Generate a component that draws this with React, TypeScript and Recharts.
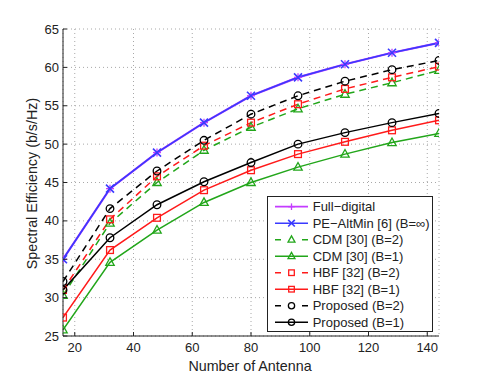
import React from 'react';
import { LineChart, Line, XAxis, YAxis, CartesianGrid, Legend } from 'recharts';

const antennas = [16, 32, 48, 64, 80, 96, 112, 128, 144];
const fullDigital = [35.0, 44.2, 48.9, 52.8, 56.3, 58.7, 60.4, 61.9, 63.2];
const peAltMin = [35.0, 44.2, 48.9, 52.8, 56.3, 58.7, 60.4, 61.9, 63.2];
const cdmB2 = [30.3, 39.7, 45.0, 49.2, 52.2, 54.6, 56.5, 58.0, 59.6];
const cdmB1 = [25.8, 34.6, 38.8, 42.4, 45.0, 47.0, 48.7, 50.2, 51.4];
const hbfB2 = [31.0, 40.2, 45.8, 49.8, 52.8, 55.2, 57.2, 58.7, 60.1];
const hbfB1 = [27.4, 36.2, 40.4, 44.0, 46.6, 48.7, 50.3, 51.8, 53.1];
const propB2 = [32.1, 41.6, 46.5, 50.5, 53.9, 56.3, 58.2, 59.7, 60.9];
const propB1 = [31.0, 37.8, 42.1, 45.1, 47.6, 50.0, 51.5, 52.8, 54.0];
const xTicks = [20, 40, 60, 80, 100, 120, 140];
const yTicks = [25, 30, 35, 40, 45, 50, 55, 60, 65];

const FONT = '"Liberation Sans", Arial, Helvetica, sans-serif';

type Shape = 'plus' | 'x' | 'triangle' | 'square' | 'circle';
interface SeriesDef { key: string; name: string; color: string; dashed: boolean; shape: Shape; values: number[]; width: number }

const series: SeriesDef[] = [
  { key: 'fd', name: 'Full\u2212digital', color: '#c43cff', dashed: false, shape: 'plus', values: fullDigital, width: 2.2 },
  { key: 'pe', name: 'PE\u2212AltMin [6] (B=\u221e)', color: '#3a3aff', dashed: false, shape: 'x', values: peAltMin, width: 1.6 },
  { key: 'cdm2', name: 'CDM [30] (B=2)', color: '#22a61a', dashed: true, shape: 'triangle', values: cdmB2, width: 1.5 },
  { key: 'cdm1', name: 'CDM [30] (B=1)', color: '#22a61a', dashed: false, shape: 'triangle', values: cdmB1, width: 1.5 },
  { key: 'hbf2', name: 'HBF [32] (B=2)', color: '#ff1a1a', dashed: true, shape: 'square', values: hbfB2, width: 1.5 },
  { key: 'hbf1', name: 'HBF [32] (B=1)', color: '#ff1a1a', dashed: false, shape: 'square', values: hbfB1, width: 1.5 },
  { key: 'p2', name: 'Proposed (B=2)', color: '#000000', dashed: true, shape: 'circle', values: propB2, width: 1.5 },
  { key: 'p1', name: 'Proposed (B=1)', color: '#000000', dashed: false, shape: 'circle', values: propB1, width: 1.5 },
];

const data = antennas.map((n, i) => {
  const row: Record<string, number> = { n };
  series.forEach((s) => { row[s.key] = s.values[i]; });
  return row;
});

function Marker({ shape, x, y, color, s = 4 }: { shape: Shape; x: number; y: number; color: string; s?: number }) {
  const common = { stroke: color, strokeWidth: 1.3, fill: 'none' };
  switch (shape) {
    case 'plus':
      return (
        <g {...common}>
          <line x1={x - s} y1={y} x2={x + s} y2={y} />
          <line x1={x} y1={y - s} x2={x} y2={y + s} />
        </g>
      );
    case 'x':
      return (
        <g {...common} strokeWidth={1.6}>
          <line x1={x - s} y1={y - s} x2={x + s} y2={y + s} />
          <line x1={x - s} y1={y + s} x2={x + s} y2={y - s} />
        </g>
      );
    case 'triangle':
      return <polygon {...common} points={`${x},${y - s * 1.15} ${x - s * 1.05},${y + s * 0.75} ${x + s * 1.05},${y + s * 0.75}`} />;
    case 'square':
      return <rect {...common} x={x - s * 0.85} y={y - s * 0.85} width={s * 1.7} height={s * 1.7} />;
    case 'circle':
    default:
      return <circle {...common} cx={x} cy={y} r={s * 0.95} />;
  }
}

const makeDot = (s: SeriesDef) => (props: any) => {
  const { cx, cy, index } = props;
  if (cx == null || cy == null) return <g key={`${s.key}-${index}`} />;
  return (
    <g key={`${s.key}-${index}`}>
      <Marker shape={s.shape} x={cx} y={cy} color={s.color} />
    </g>
  );
};

const BottomTick = (props: any) => {
  const { x, y, payload } = props;
  return (
    <g>
      <line x1={x} y1={y} x2={x} y2={y - 4} stroke="#222" />
      <text x={x} y={y + 15.5} textAnchor="middle" fontSize={13} fill="#222" fontFamily={FONT}>{payload.value}</text>
    </g>
  );
};
const TopTick = (props: any) => {
  const { x, y } = props;
  return <line x1={x} y1={y} x2={x} y2={y + 4} stroke="#222" />;
};
const LeftTick = (props: any) => {
  const { x, y, payload } = props;
  return (
    <g>
      <line x1={x} y1={y} x2={x + 4} y2={y} stroke="#222" />
      <text x={x - 4} y={y + 4.5} textAnchor="end" fontSize={13} fill="#222" fontFamily={FONT}>{payload.value}</text>
    </g>
  );
};
const RightTick = (props: any) => {
  const { x, y } = props;
  return <line x1={x} y1={y} x2={x - 4} y2={y} stroke="#222" />;
};

const LegendBox = () => (
  <svg width={167} height={137} style={{ display: 'block' }}>
    <rect x={0.5} y={0.5} width={165} height={135} fill="#ffffff" stroke="#222" strokeWidth={1} />
    {series.map((s, i) => {
      const cy = 10.7 + i * 16.5;
      return (
        <g key={s.key}>
          <line x1={8} x2={41} y1={cy} y2={cy} stroke={s.color} strokeWidth={s.key === 'fd' ? 1.8 : 1.5}
            strokeDasharray={s.dashed ? '6 21' : undefined} />
          <Marker shape={s.shape} x={24.5} y={cy} color={s.color} s={3.3} />
          <text x={45.7} y={cy + 4.6} fontSize={13} fill="#222" fontFamily={FONT}>{s.name}</text>
        </g>
      );
    })}
  </svg>
);

const YLabel = () => (
  <text x={32} y={183.5} transform="rotate(-90, 32, 183.5)" textAnchor="middle" dominantBaseline="central"
    fontSize={14.3} fill="#222" fontFamily={FONT}>Spectral Efficiency (b/s/Hz)</text>
);
const XLabel = () => (
  <text x={250} y={371} textAnchor="middle" fontSize={14.3} fill="#222" fontFamily={FONT}>Number of Antenna</text>
);

export default function App() {
  return (
    <div style={{ position: 'absolute', left: 0, top: 0, width: 485, height: 379, background: '#fff' }}>
      <LineChart width={485} height={379} data={data} margin={{ top: 29, right: 46, left: 0, bottom: 0 }}>
        <CartesianGrid stroke="#a8a8a8" strokeDasharray="1 3" strokeWidth={1} />
        <XAxis dataKey="n" type="number" domain={[16, 144]} ticks={xTicks} allowDataOverflow
          height={43} tickSize={0} tickMargin={0} tick={BottomTick} axisLine={{ stroke: '#222' }}
          interval={0} label={XLabel} />
        <XAxis xAxisId="top" orientation="top" dataKey="n" type="number" domain={[16, 144]} ticks={xTicks}
          allowDataOverflow height={0} tickSize={0} tickMargin={0} tick={TopTick} axisLine={{ stroke: '#222' }} interval={0} />
        <YAxis domain={[25, 65]} ticks={yTicks} allowDataOverflow width={63} tickSize={0} tickMargin={0}
          tick={LeftTick} axisLine={{ stroke: '#222' }} interval={0} label={YLabel} />
        <YAxis yAxisId="right" orientation="right" domain={[25, 65]} ticks={yTicks} allowDataOverflow width={0}
          tickSize={0} tickMargin={0} tick={RightTick} axisLine={{ stroke: '#222' }} interval={0} />
        {series.map((s) => (
          <Line key={s.key} dataKey={s.key} name={s.name} type="linear" stroke={s.color} strokeWidth={s.width}
            strokeDasharray={s.dashed ? '7 5' : undefined} dot={makeDot(s)} activeDot={false}
            isAnimationActive={false} />
        ))}
        <Legend content={() => <LegendBox />} verticalAlign="middle" align="center" layout="horizontal"
          wrapperStyle={{ left: 267, top: 196, width: 167, height: 137 }} />
      </LineChart>
    </div>
  );
}
